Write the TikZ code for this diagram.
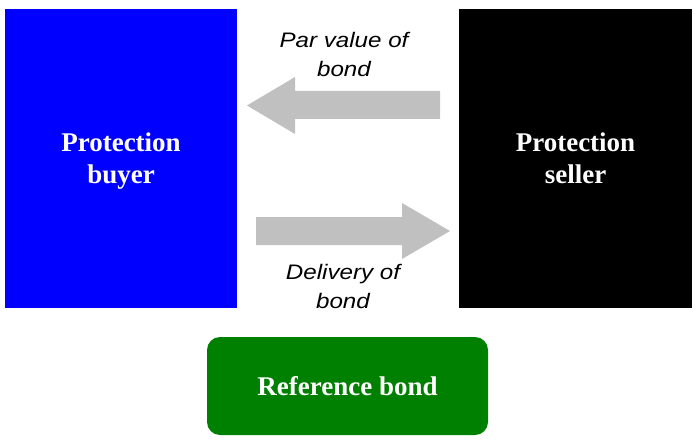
\documentclass[tikz,border=0pt]{standalone}
\usepackage{fontspec}
\setmainfont{Liberation Serif}
\newfontfamily\lblfont{Liberation Sans}
\definecolor{boxblue}{RGB}{0,0,255}
\definecolor{boxgreen}{RGB}{0,128,0}
\definecolor{arrowgrey}{RGB}{192,192,192}
\newcommand{\stretchtxt}[1]{\scalebox{1.15}[1]{#1}}
\newcommand{\nodepth}[1]{\raisebox{0pt}[\height][0pt]{#1}}
\begin{document}
\begin{tikzpicture}[x=1pt,y=-1pt,
  party/.style={font=\fontsize{27}{32}\selectfont\bfseries, text=white, align=center, inner sep=0pt, outer sep=0pt},
  lbl/.style={font=\lblfont\itshape\fontsize{21}{29}\selectfont, text=black, align=center, inner sep=0pt},
  blockarrow/.style={fill=arrowgrey, draw=none}]
\useasboundingbox (0,0) rectangle (696,441);
\node[party, fill=boxblue, minimum width=232pt, minimum height=299pt] (buyer) at (121,158.5) {Protection\\\nodepth{buyer}};
\node[party, fill=black, minimum width=233pt, minimum height=299pt] (seller) at (575.5,158.5) {Protection\\seller};
\node[party, fill=boxgreen, rounded corners=13pt, minimum width=281pt, minimum height=98pt] (refbond) at (347.5,386) {Reference bond};
% block arrows
\fill[blockarrow] (440,91) -- (295,91) -- (295,77) -- (247,105.5) -- (295,134) -- (295,119) -- (440,119) -- cycle;
\fill[blockarrow] (256,217) -- (402,217) -- (402,203) -- (450,231) -- (402,259) -- (402,245) -- (256,245) -- cycle;
\node[lbl] (parlbl) at (344,55) {\stretchtxt{Par value of}\\\stretchtxt{bond}};
\node[lbl] (delivlbl) at (343,286) {\stretchtxt{Delivery of}\\\stretchtxt{bond}};
\end{tikzpicture}
\end{document}
